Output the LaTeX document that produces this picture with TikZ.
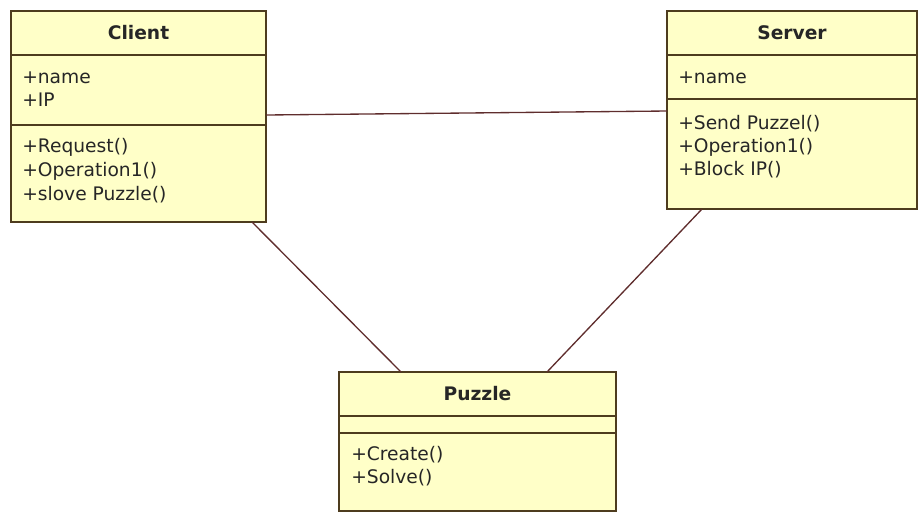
\documentclass[tikz,border=0pt]{standalone}
\usepackage{fontspec}
\setmainfont{DejaVu Sans}
\definecolor{umlfill}{RGB}{255,255,200}
\definecolor{umlborder}{RGB}{78,60,30}
\definecolor{umlline}{RGB}{95,45,45}
\begin{document}
\begin{tikzpicture}[x=0.75pt,y=-0.75pt,
  classbox/.style={draw=umlborder,fill=umlfill,line width=1.3pt},
  sepline/.style={draw=umlborder,line width=1.3pt},
  member/.style={anchor=base west,inner sep=0pt,font=\fontsize{14pt}{16pt}\selectfont,text=black!85},
  title/.style={anchor=base,inner sep=0pt,font=\bfseries\fontsize{14pt}{16pt}\selectfont,text=black!85},
  assoc/.style={draw=umlline,line width=1pt}]
\useasboundingbox (0,0) rectangle (918,512);
% Client
\draw[classbox] (11,11) rectangle (266,222);
\draw[sepline] (11,55) -- (266,55);
\draw[sepline] (11,125) -- (266,125);
\node[title] (ct) at (138.5,39) {Client};
\node[member] (c1) at (22,83) {+name};
\node[member] (c2) at (22,106) {+IP};
\node[member] (c3) at (22,152) {+Request()};
\node[member] (c4) at (22,176) {+Operation1()};
\node[member] (c5) at (22,200) {+slove Puzzle()};
\coordinate (cR) at (266,115);
\coordinate (cB) at (252,222);
% Server
\draw[classbox] (667,11) rectangle (917,209);
\draw[sepline] (667,55) -- (917,55);
\draw[sepline] (667,99) -- (917,99);
\node[title] (st) at (792,39) {Server};
\node[member] (s1) at (678,83) {+name};
\node[member] (s2) at (678,129) {+Send Puzzel()};
\node[member] (s3) at (678,152) {+Operation1()};
\node[member] (s4) at (678,175) {+Block IP()};
\coordinate (sL) at (667,111);
\coordinate (sB) at (702,209);
% Puzzle
\draw[classbox] (339,372) rectangle (616,511);
\draw[sepline] (339,416) -- (616,416);
\draw[sepline] (339,433) -- (616,433);
\node[title] (pt) at (477.5,400) {Puzzle};
\node[member] (p1) at (351,460) {+Create()};
\node[member] (p2) at (351,483) {+Solve()};
\coordinate (pL) at (401,372);
\coordinate (pR) at (547,372);
% associations
\draw[assoc] (cR) -- (sL);
\draw[assoc] (cB) -- (pL);
\draw[assoc] (sB) -- (pR);
\end{tikzpicture}
\end{document}
